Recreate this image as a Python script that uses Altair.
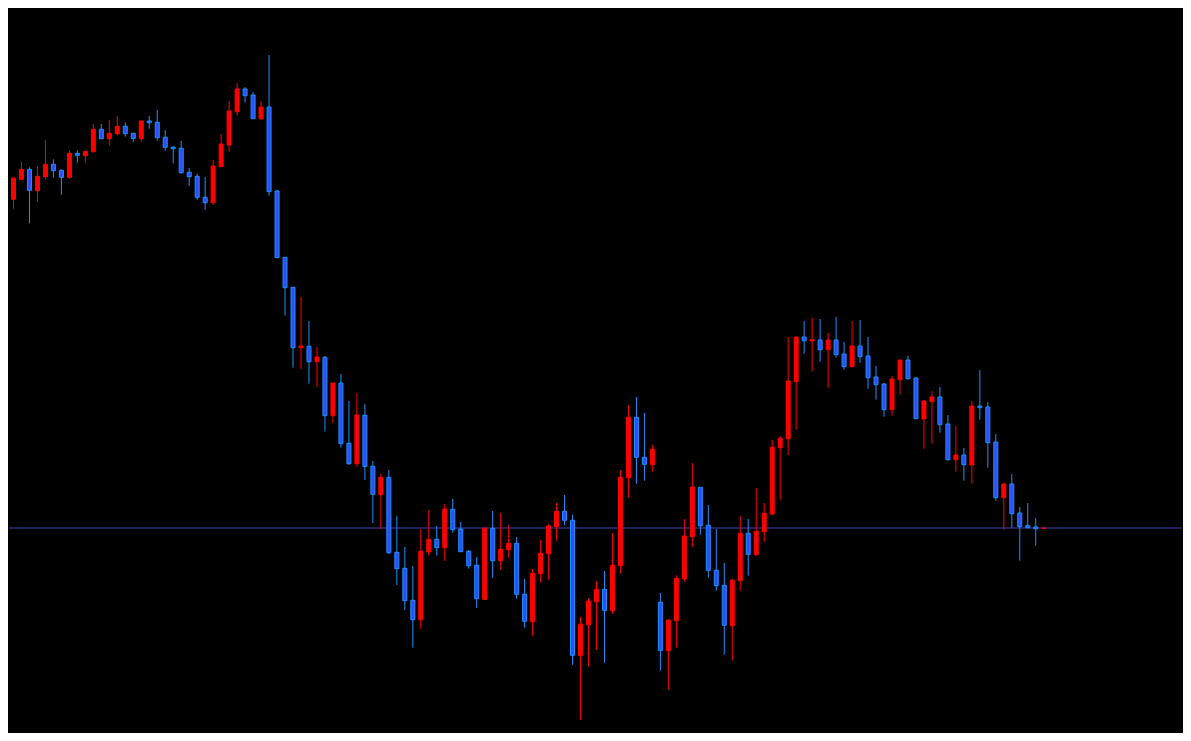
import altair as alt
import pandas as pd

opens = [563.7, 541.7, 561.7, 571.7, 550.3, 564.3, 576.7, 570.7, 563.7, 587.7,
         585.3, 589.3, 611.7, 602.3, 607.3, 614.7, 607.7, 602.3, 620, 618.7,
         603.7, 593.7, 592.7, 568.7, 564.7, 543.7, 538.3, 574.3, 596, 629.3,
         652, 646, 622.3, 634, 550, 483.7, 453.7, 393.3, 394.7, 379.3,
         383.7, 325.3, 358, 297.7, 277.3, 325.7, 274.7, 246.3, 263.7, 188.7,
         172.7, 140.7, 121.3, 189, 201.7, 193.3, 231.7, 212, 189.7, 175.7,
         141.7, 212.7, 180.3, 191.3, 197.7, 146.7, 119.3, 167.3, 187.3, 214.3,
         229.7, 220.7, 85.7, 116.3, 139.3, 151.7, 130.3, 175.3, 263.3, 323.7,
         283.7, 276.3, 138.7, 90.3, 120.3, 162, 204.3, 253.7, 215.7, 170.7,
         155.7, 115.3, 160.3, 207.7, 186.3, 209.3, 227, 293.3, 302.3, 359.3,
         404, 400, 401, 391.3, 401, 387, 374.3, 395, 385, 364,
         357, 331.3, 361.3, 381, 363, 322, 339.3, 344, 317, 281.3,
         286, 276, 335, 334, 299, 243.3, 257, 228, 215.3, 214,
         212.7]

highs = [567.7, 563, 579, 573.7, 575, 601, 581.7, 571.7, 590.7, 590.7,
         589.7, 617, 617, 621, 625, 618.7, 607.7, 620, 625, 631,
         611, 595, 600, 573, 567, 564, 581, 607, 640, 658,
         654, 649, 640, 686, 551, 483.7, 453.7, 444.3, 420, 394,
         385, 358, 367, 340, 348, 337, 280, 267, 271, 225,
         194, 175, 212, 231, 215, 237, 242, 219, 191, 184,
         213, 230, 228, 216, 203.7, 162, 172, 201, 217, 238,
         246, 226, 124, 143, 160, 170, 208, 271, 336, 344,
         328, 296, 148, 121, 165.7, 222, 278, 253.7, 236, 212,
         178, 162, 225, 222, 253, 238, 301, 305, 404, 404,
         420, 423, 422, 408, 424, 399, 420, 421, 404, 375,
         358, 365, 381, 385, 364, 341, 350, 354, 326, 315,
         293, 340, 371, 339, 307, 258, 267, 234, 238, 223,
         213]

lows = [533.7, 532.3, 561.7, 517.7, 539.3, 561.7, 563.3, 546.3, 562.3, 578.3,
        578.3, 588.3, 602.3, 595.3, 605.7, 604.3, 599.3, 599.3, 612.3, 600.3,
        590.3, 577.7, 567.3, 555.3, 541.3, 531.3, 536, 574.3, 589.3, 625.3,
        638.3, 622.3, 621, 545.3, 483.3, 425.3, 373.3, 372, 357.3, 354,
        309.3, 318, 293.3, 276, 274, 261, 218, 212, 187, 156,
        131, 93.3, 112, 185.3, 185.3, 180, 208.3, 189.3, 172.3, 133,
        141, 163, 171, 183.3, 142.3, 113.3, 105.3, 158.3, 161.3, 200.3,
        215.7, 76.3, 21.3, 74.3, 91.3, 78.3, 127.3, 167.3, 243.3, 257.3,
        260.3, 269.3, 70.3, 51.3, 93.3, 159.3, 194.3, 206.3, 163.3, 150.3,
        86.3, 80.3, 150.3, 165.3, 185.3, 199.3, 226, 241.3, 286, 311.3,
        387.3, 370, 379.3, 353.3, 383.3, 371.3, 374.3, 378.3, 352.3, 341.3,
        324.3, 325.3, 346.3, 361.3, 322.3, 292.3, 297.3, 308.3, 280.3, 269.3,
        260.3, 257.3, 321.3, 273.3, 240.3, 211.3, 213.3, 180.3, 212.7, 195.3,
        212.7]

closes = [541.7, 563, 571.7, 550.7, 564.7, 576.7, 570.3, 563.7, 587.7, 585.7,
          589.7, 611.7, 602.3, 607.7, 614.7, 607.3, 602.5, 620, 618.3, 603.3,
          593.7, 592.3, 568.3, 564.3, 543.7, 538.3, 575, 597, 630, 652,
          645.3, 622.3, 634, 549.3, 483.3, 453.3, 393.3, 395, 379.3, 384,
          325.3, 358, 297.3, 277.3, 326, 274.5, 246.7, 263.7, 188.3, 172.3,
          140.3, 121.3, 189.7, 201.7, 193.3, 232, 211.3, 189.3, 175.3, 142.3,
          213, 180.3, 191.7, 197.7, 146.7, 119.7, 167.7, 187.7, 215, 229.7,
          220.7, 85.7, 116.7, 140, 151.7, 130.7, 175.7, 263.7, 323.7, 283.7,
          276.7, 291.7, 90.7, 121, 162.7, 205, 254, 215.3, 170.7, 155.3,
          115.7, 160.7, 207.7, 186.7, 209.7, 227.7, 293.7, 302.7, 360, 404,
          400.3, 401.3, 391.3, 401, 386.3, 374.3, 395, 384.3, 363.3, 356.3,
          331.3, 362, 381, 362.3, 322.3, 340, 344, 316.3, 281.3, 286,
          276.3, 335, 333.3, 298.3, 243.3, 257, 227.3, 214.3, 213.3, 212.3,
          213]

bid_price = 213

df = pd.DataFrame({
    "i": list(range(len(opens))),
    "open": opens, "high": highs, "low": lows, "close": closes,
})
df["dir"] = ["up" if c >= o else "down" for o, c in zip(opens, closes)]

W, H = 1175, 725
xscale = alt.Scale(domain=[0.4375, 0.4375 + W / 8], nice=False, zero=False, padding=0)
yscale = alt.Scale(domain=[733 - H, 733], nice=False, zero=False, padding=0)
fill_scale = alt.Scale(domain=["down", "up"], range=["#2F4FF6", "#FF0000"])
edge_scale = alt.Scale(domain=["down", "up"], range=["#1E90FF", "#FF0000"])

base = alt.Chart(df)

wicks = base.mark_rule(strokeWidth=1, clip=True).encode(
    x=alt.X("i:Q", scale=xscale, axis=None),
    y=alt.Y("low:Q", scale=yscale, axis=None),
    y2="high:Q",
    color=alt.Color("dir:N", scale=edge_scale, legend=None),
)

bodies = base.mark_bar(size=4, strokeWidth=1, clip=True).encode(
    x=alt.X("i:Q", scale=xscale, axis=None),
    y=alt.Y("open:Q", scale=yscale, axis=None),
    y2="close:Q",
    fill=alt.Fill("dir:N", scale=fill_scale, legend=None),
    stroke=alt.Stroke("dir:N", scale=edge_scale, legend=None),
)

bid = alt.Chart(pd.DataFrame({"p": [bid_price]})).mark_rule(
    color="#4040B4", strokeWidth=1
).encode(y=alt.Y("p:Q", scale=yscale, axis=None))

chart = alt.layer(bid, wicks, bodies).properties(
    width=W, height=H, background="#000000", padding=0,
    autosize=alt.AutoSizeParams(type="fit", contains="padding"),
).configure_view(stroke=None, fill="#000000")

chart.save("out.html", embed_options={"renderer": "svg", "actions": False})
